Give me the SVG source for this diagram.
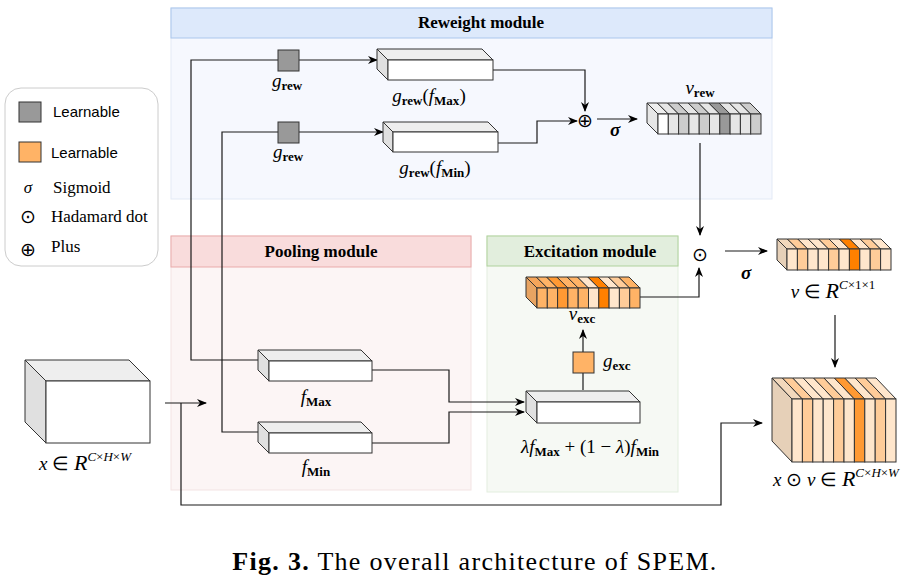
<svg xmlns="http://www.w3.org/2000/svg" width="915" height="581" viewBox="0 0 915 581">
<style>
.edge{fill:none;stroke:#1a1a1a;stroke-width:1.2}
.box{stroke:#333;stroke-width:1}
.front{fill:#fff}
.top{fill:#eeeeee}
.side{fill:#e0e0e0}
.hdr{font-family:"Liberation Serif",serif;font-weight:bold;font-size:17px;fill:#000;text-anchor:middle}
.m{font-family:"Liberation Serif",serif;font-size:19px;fill:#000}
.it{font-style:italic}
.sb{font-weight:bold;font-size:13px}
.sp{font-size:13px;font-style:italic}
.sn{font-size:13px}
.lg{font-family:"Liberation Sans",sans-serif;font-size:15px;fill:#000}
.op{font-family:"DejaVu Sans",sans-serif;font-size:19px;fill:#000;text-anchor:middle}
</style>
<defs>
<marker id="arr" viewBox="0 0 10 10" refX="9" refY="5" markerWidth="10" markerHeight="10" markerUnits="userSpaceOnUse" orient="auto">
<path d="M0,1 L10,5 L0,9 L3,5 z" fill="#000"/>
</marker>
</defs>
<rect width="915" height="581" fill="#fff"/>

<!-- modules -->
<g id="reweight-module">
<rect x="171" y="8" width="601" height="191" fill="#f6f8fe" stroke="#e3eaf6"/>
<rect x="171" y="8" width="601" height="30" fill="#dde9fb" stroke="#aac6ec"/>
<text class="hdr" x="481" y="28">Reweight module</text>
</g>
<g id="pooling-module">
<rect x="171" y="236" width="300" height="254" fill="#fcf5f5" stroke="#f3e3e3"/>
<rect x="171" y="236" width="300" height="31" fill="#f9dcdc" stroke="#e9abab"/>
<text class="hdr" x="321" y="257">Pooling module</text>
</g>
<g id="excitation-module">
<rect x="487" y="236" width="191" height="256" fill="#f6f9f4" stroke="#e3eedf"/>
<rect x="487" y="236" width="191" height="30" fill="#e2eedd" stroke="#afd29c"/>
<text class="hdr" x="590" y="257">Excitation module</text>
</g>

<!-- legend -->
<g id="legend">
<rect x="5" y="88" width="153" height="178" rx="16" fill="#fff" stroke="#cccccc"/>
<rect x="19" y="102" width="22" height="20" fill="#999999" stroke="#333"/>
<text class="lg" x="53" y="117">Learnable</text>
<rect x="19" y="142" width="22" height="20" fill="#ffb366" stroke="#333"/>
<text class="lg" x="51" y="158">Learnable</text>
<text x="28" y="193" font-family="Liberation Serif, serif" font-size="17" font-style="italic" text-anchor="middle">σ</text>
<text x="53" y="193" font-family="Liberation Serif, serif" font-size="17">Sigmoid</text>
<text class="op" x="28" y="223">⊙</text>
<text x="51" y="222" font-family="Liberation Serif, serif" font-size="17">Hadamard dot</text>
<text class="op" x="28" y="256">⊕</text>
<text x="51" y="252" font-family="Liberation Serif, serif" font-size="17">Plus</text>
</g>

<!-- connectors -->
<g id="connectors">
<path class="edge" d="M165,403 L206,403" marker-end="url(#arr)"/>
<path class="edge" d="M181,403 L181,505 L721,505 L721,423 L762,423" marker-end="url(#arr)"/>
<path class="edge" d="M258,360 L191,360 L191,60 L278,60"/>
<path class="edge" d="M299,60 L377,60" marker-end="url(#arr)"/>
<path class="edge" d="M258,432 L222,432 L222,132 L278,132"/>
<path class="edge" d="M299,132 L383,132" marker-end="url(#arr)"/>
<path class="edge" d="M493,70 L585,70 L585,111" marker-end="url(#arr)"/>
<path class="edge" d="M498,143 L537,143 L537,121 L577,121" marker-end="url(#arr)"/>
<path class="edge" d="M597,119 L637,119" marker-end="url(#arr)"/>
<path class="edge" d="M700,143 L700,235" marker-end="url(#arr)"/>
<path class="edge" d="M640,297 L699,297 L699,268" marker-end="url(#arr)"/>
<path class="edge" d="M725,251 L767,251" marker-end="url(#arr)"/>
<path class="edge" d="M835,315 L835,367" marker-end="url(#arr)"/>
<path class="edge" d="M372,370 L449,370 L449,402 L524,402" marker-end="url(#arr)"/>
<path class="edge" d="M372,443 L449,443 L449,412 L524,412" marker-end="url(#arr)"/>
<path class="edge" d="M583,390 L583,373"/>
<path class="edge" d="M583,352 L583,330" marker-end="url(#arr)"/>
</g>

<!-- operators -->
<g id="plus-op"><text class="op" x="585" y="127">⊕</text></g>
<g id="sigma-rew"><text class="m it" x="615" y="136" font-weight="bold" text-anchor="middle" font-size="19">σ</text></g>
<g id="hadamard-op"><text class="op" x="700" y="261">⊙</text></g>
<g id="sigma-out"><text class="m it" x="746" y="279" font-weight="bold" text-anchor="middle" font-size="19">σ</text></g>

<!-- g_rew squares -->
<g id="g-rew-1">
<rect x="278" y="50" width="21" height="21" fill="#999999" stroke="#333"/>
<text class="m" x="287" y="87" text-anchor="middle"><tspan class="it">g</tspan><tspan class="sb" dy="3">rew</tspan></text>
</g>
<g id="g-rew-2">
<rect x="278" y="122" width="21" height="21" fill="#999999" stroke="#333"/>
<text class="m" x="288" y="158" text-anchor="middle"><tspan class="it">g</tspan><tspan class="sb" dy="3">rew</tspan></text>
</g>

<!-- g_rew(f_Max) -->
<g id="g-rew-fmax">
<polygon class="box top" points="377,49 482,49 493,60 388,60"/>
<polygon class="box side" points="377,49 388,60 388,80 377,69"/>
<rect class="box front" x="388" y="60" width="105" height="20"/>
<text class="m" x="429" y="102" text-anchor="middle"><tspan class="it">g</tspan><tspan class="sb" dy="3">rew</tspan><tspan dy="-3">(</tspan><tspan class="it">f</tspan><tspan class="sb" dy="3">Max</tspan><tspan dy="-3">)</tspan></text>
</g>
<!-- g_rew(f_Min) -->
<g id="g-rew-fmin">
<polygon class="box top" points="383,122 488,122 498,132 393,132"/>
<polygon class="box side" points="383,122 393,132 393,152 383,142"/>
<rect class="box front" x="393" y="132" width="105" height="20"/>
<text class="m" x="435" y="174" text-anchor="middle"><tspan class="it">g</tspan><tspan class="sb" dy="3">rew</tspan><tspan dy="-3">(</tspan><tspan class="it">f</tspan><tspan class="sb" dy="3">Min</tspan><tspan dy="-3">)</tspan></text>
</g>

<!-- v_rew -->
<g id="v-rew">
<g transform="translate(658,114)" stroke="#333" stroke-width="1">
<polygon points="-11,-11 0,0 0,20 -11,9" fill="#e6e6e6"/>
<polygon points="-11,-11 -0.7,-11 10.3,0 0,0" fill="#eeeeee"/>
<polygon points="-0.7,-11 9.6,-11 20.6,0 10.3,0" fill="#e6e6e6"/>
<polygon points="9.6,-11 19.9,-11 30.9,0 20.6,0" fill="#cccccc"/>
<polygon points="19.9,-11 30.2,-11 41.2,0 30.9,0" fill="#e6e6e6"/>
<polygon points="30.2,-11 40.5,-11 51.5,0 41.2,0" fill="#cccccc"/>
<polygon points="40.5,-11 50.8,-11 61.8,0 51.5,0" fill="#e6e6e6"/>
<polygon points="50.8,-11 61.1,-11 72.1,0 61.8,0" fill="#999999"/>
<polygon points="61.1,-11 71.4,-11 82.4,0 72.1,0" fill="#e6e6e6"/>
<polygon points="71.4,-11 81.7,-11 92.7,0 82.4,0" fill="#e6e6e6"/>
<polygon points="81.7,-11 92,-11 103,0 92.7,0" fill="#cccccc"/>
<rect x="0" y="0" width="10.3" height="20" fill="#ffffff"/>
<rect x="10.3" y="0" width="10.3" height="20" fill="#e6e6e6"/>
<rect x="20.6" y="0" width="10.3" height="20" fill="#cccccc"/>
<rect x="30.9" y="0" width="10.3" height="20" fill="#e6e6e6"/>
<rect x="41.2" y="0" width="10.3" height="20" fill="#cccccc"/>
<rect x="51.5" y="0" width="10.3" height="20" fill="#e6e6e6"/>
<rect x="61.8" y="0" width="10.3" height="20" fill="#999999"/>
<rect x="72.1" y="0" width="10.3" height="20" fill="#e6e6e6"/>
<rect x="82.4" y="0" width="10.3" height="20" fill="#e6e6e6"/>
<rect x="92.7" y="0" width="10.3" height="20" fill="#cccccc"/>
</g>
<text class="m" x="700" y="94" text-anchor="middle"><tspan class="it">v</tspan><tspan class="sb" dy="3">rew</tspan></text>
</g>

<!-- v -->
<g id="v-out">
<g transform="translate(787,249)" stroke="#333" stroke-width="1">
<polygon points="-10,-10 0,0 0,21 -10,11" fill="#e6d0b8"/>
<polygon points="-10,-10 0.4,-10 10.4,0 0,0" fill="#f2d8bc"/>
<polygon points="0.4,-10 10.8,-10 20.8,0 10.4,0" fill="#ffcc99"/>
<polygon points="10.8,-10 21.2,-10 31.2,0 20.8,0" fill="#ffe6cc"/>
<polygon points="21.2,-10 31.6,-10 41.6,0 31.2,0" fill="#ffe6cc"/>
<polygon points="31.6,-10 42,-10 52,0 41.6,0" fill="#ffcc99"/>
<polygon points="42,-10 52.4,-10 62.4,0 52,0" fill="#ffe6cc"/>
<polygon points="52.4,-10 62.8,-10 72.8,0 62.4,0" fill="#ff8000"/>
<polygon points="62.8,-10 73.2,-10 83.2,0 72.8,0" fill="#ffe6cc"/>
<polygon points="73.2,-10 83.6,-10 93.6,0 83.2,0" fill="#ffcc99"/>
<polygon points="83.6,-10 94,-10 104,0 93.6,0" fill="#ffe6cc"/>
<rect x="0" y="0" width="10.4" height="21" fill="#ffe6cc"/>
<rect x="10.4" y="0" width="10.4" height="21" fill="#ffcc99"/>
<rect x="20.8" y="0" width="10.4" height="21" fill="#ffe6cc"/>
<rect x="31.2" y="0" width="10.4" height="21" fill="#ffe6cc"/>
<rect x="41.6" y="0" width="10.4" height="21" fill="#ffcc99"/>
<rect x="52" y="0" width="10.4" height="21" fill="#ffe6cc"/>
<rect x="62.4" y="0" width="10.4" height="21" fill="#ff8000"/>
<rect x="72.8" y="0" width="10.4" height="21" fill="#ffe6cc"/>
<rect x="83.2" y="0" width="10.4" height="21" fill="#ffcc99"/>
<rect x="93.6" y="0" width="10.4" height="21" fill="#ffe6cc"/>
</g>
<text class="m" x="833" y="298" text-anchor="middle"><tspan class="it">v</tspan> ∈ <tspan class="it" font-size="22">R</tspan><tspan class="sp" dy="-9">C</tspan><tspan class="sn">×1×1</tspan></text>
</g>

<!-- v_exc -->
<g id="v-exc">
<g transform="translate(537,288)" stroke="#333" stroke-width="1">
<polygon points="-11,-11 0,0 0,20 -11,9" fill="#e8a462"/>
<polygon points="-11,-11 -0.7,-11 10.3,0 0,0" fill="#f5a55a"/>
<polygon points="-0.7,-11 9.6,-11 20.6,0 10.3,0" fill="#ffb366"/>
<polygon points="9.6,-11 19.9,-11 30.9,0 20.6,0" fill="#ff9933"/>
<polygon points="19.9,-11 30.2,-11 41.2,0 30.9,0" fill="#ffb366"/>
<polygon points="30.2,-11 40.5,-11 51.5,0 41.2,0" fill="#ffb366"/>
<polygon points="40.5,-11 50.8,-11 61.8,0 51.5,0" fill="#ffe6cc"/>
<polygon points="50.8,-11 61.1,-11 72.1,0 61.8,0" fill="#ff8000"/>
<polygon points="61.1,-11 71.4,-11 82.4,0 72.1,0" fill="#ffe6cc"/>
<polygon points="71.4,-11 81.7,-11 92.7,0 82.4,0" fill="#ffcc99"/>
<polygon points="81.7,-11 92,-11 103,0 92.7,0" fill="#ffb366"/>
<rect x="0" y="0" width="10.3" height="20" fill="#ffb366"/>
<rect x="10.3" y="0" width="10.3" height="20" fill="#ffb366"/>
<rect x="20.6" y="0" width="10.3" height="20" fill="#ff9933"/>
<rect x="30.9" y="0" width="10.3" height="20" fill="#ffb366"/>
<rect x="41.2" y="0" width="10.3" height="20" fill="#ffb366"/>
<rect x="51.5" y="0" width="10.3" height="20" fill="#ffe6cc"/>
<rect x="61.8" y="0" width="10.3" height="20" fill="#ff8000"/>
<rect x="72.1" y="0" width="10.3" height="20" fill="#ffe6cc"/>
<rect x="82.4" y="0" width="10.3" height="20" fill="#ffcc99"/>
<rect x="92.7" y="0" width="10.3" height="20" fill="#ffb366"/>
</g>
<text class="m" x="582" y="320" text-anchor="middle"><tspan class="it">v</tspan><tspan class="sb" dy="3">exc</tspan></text>
</g>

<!-- g_exc -->
<g id="g-exc">
<rect x="573" y="352" width="21" height="21" fill="#ffb366" stroke="#333"/>
<text class="m" x="603" y="367"><tspan class="it">g</tspan><tspan class="sb" dy="3">exc</tspan></text>
</g>

<!-- combined -->
<g id="combined">
<polygon class="box top" points="526,391 629,391 640,402 537,402"/>
<polygon class="box side" points="526,391 537,402 537,423 526,412"/>
<rect class="box front" x="537" y="402" width="103" height="21"/>
<text class="m" x="590" y="453" text-anchor="middle"><tspan class="it">λf</tspan><tspan class="sb" dy="3">Max</tspan><tspan dy="-3"> + (1 − </tspan><tspan class="it">λ</tspan>)<tspan class="it">f</tspan><tspan class="sb" dy="3">Min</tspan></text>
</g>

<!-- f_Max -->
<g id="f-max">
<polygon class="box top" points="258,350 361,350 372,361 269,361"/>
<polygon class="box side" points="258,350 269,361 269,381 258,370"/>
<rect class="box front" x="269" y="361" width="103" height="20"/>
<text class="m" x="316" y="403" text-anchor="middle"><tspan class="it">f</tspan><tspan class="sb" dy="3">Max</tspan></text>
</g>
<!-- f_Min -->
<g id="f-min">
<polygon class="box top" points="258,422 361,422 372,433 269,433"/>
<polygon class="box side" points="258,422 269,433 269,453 258,442"/>
<rect class="box front" x="269" y="433" width="103" height="20"/>
<text class="m" x="316" y="473" text-anchor="middle"><tspan class="it">f</tspan><tspan class="sb" dy="3">Min</tspan></text>
</g>

<!-- input x -->
<g id="input-x">
<polygon class="box top" points="25,360 129,360 150,381 46,381"/>
<polygon class="box side" points="25,360 46,381 46,443 25,422"/>
<rect class="box front" x="46" y="381" width="104" height="62"/>
<text class="m" x="85" y="470" text-anchor="middle"><tspan class="it">x</tspan> ∈ <tspan class="it" font-size="22">R</tspan><tspan class="sp" dy="-9">C</tspan><tspan class="sn">×</tspan><tspan class="sp">H</tspan><tspan class="sn">×</tspan><tspan class="sp">W</tspan></text>
</g>

<!-- output x⊙v -->
<g id="output">
<g transform="translate(792,399)" stroke="#333" stroke-width="1">
<polygon points="-20,-21 0,0 0,63 -20,42" fill="#e6d0b8"/>
<polygon points="-20,-21 -9.6,-21 10.4,0 0,0" fill="#f2d8bc"/>
<polygon points="-9.6,-21 0.8,-21 20.8,0 10.4,0" fill="#ffcc99"/>
<polygon points="0.8,-21 11.2,-21 31.2,0 20.8,0" fill="#ffe6cc"/>
<polygon points="11.2,-21 21.6,-21 41.6,0 31.2,0" fill="#ffe6cc"/>
<polygon points="21.6,-21 32,-21 52,0 41.6,0" fill="#ffcc99"/>
<polygon points="32,-21 42.4,-21 62.4,0 52,0" fill="#ffe6cc"/>
<polygon points="42.4,-21 52.8,-21 72.8,0 62.4,0" fill="#ff9933"/>
<polygon points="52.8,-21 63.2,-21 83.2,0 72.8,0" fill="#ffe6cc"/>
<polygon points="63.2,-21 73.6,-21 93.6,0 83.2,0" fill="#ffcc99"/>
<polygon points="73.6,-21 84,-21 104,0 93.6,0" fill="#ffe6cc"/>
<rect x="0" y="0" width="10.4" height="63" fill="#ffe6cc"/>
<rect x="10.4" y="0" width="10.4" height="63" fill="#ffcc99"/>
<rect x="20.8" y="0" width="10.4" height="63" fill="#ffe6cc"/>
<rect x="31.2" y="0" width="10.4" height="63" fill="#ffe6cc"/>
<rect x="41.6" y="0" width="10.4" height="63" fill="#ffcc99"/>
<rect x="52" y="0" width="10.4" height="63" fill="#ffe6cc"/>
<rect x="62.4" y="0" width="10.4" height="63" fill="#ff9933"/>
<rect x="72.8" y="0" width="10.4" height="63" fill="#ffe6cc"/>
<rect x="83.2" y="0" width="10.4" height="63" fill="#ffcc99"/>
<rect x="93.6" y="0" width="10.4" height="63" fill="#ffe6cc"/>
</g>
<text class="m" x="836" y="486" text-anchor="middle"><tspan class="it">x</tspan> ⊙ <tspan class="it">v</tspan> ∈ <tspan class="it" font-size="22">R</tspan><tspan class="sp" dy="-9">C</tspan><tspan class="sn">×</tspan><tspan class="sp">H</tspan><tspan class="sn">×</tspan><tspan class="sp">W</tspan></text>
</g>

<!-- caption -->
<text x="475" y="570" font-family="Liberation Serif,serif" font-size="26" letter-spacing="1.3" text-anchor="middle" fill="#000"><tspan font-weight="bold">Fig. 3.</tspan> The overall architecture of SPEM.</text>
</svg>
